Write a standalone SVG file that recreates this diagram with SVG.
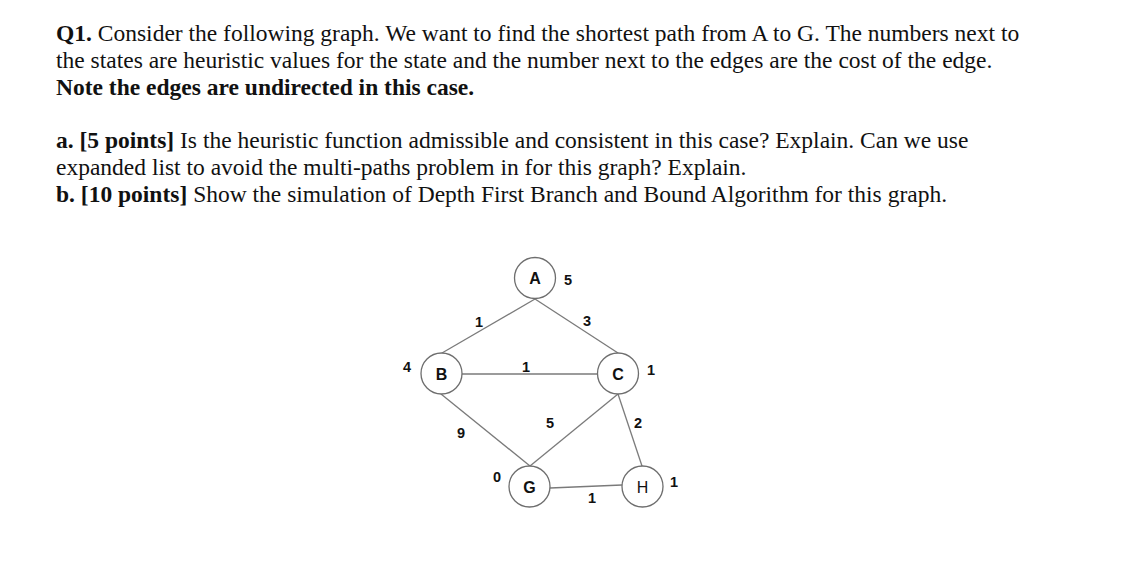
<svg xmlns="http://www.w3.org/2000/svg" width="1125" height="574" viewBox="0 0 1125 574">
<style>
.t{font-family:"Liberation Serif","Times New Roman",serif;font-size:23.5px;fill:#111}
.b{font-weight:bold}
.n{fill:#fff;stroke:#6e6e6e;stroke-width:1.3}
.nl{font-family:"Liberation Sans",Arial,sans-serif;font-size:16px;font-weight:bold;fill:#111;text-anchor:middle;dominant-baseline:central}
.nr{font-weight:normal}
.lb{font-family:"Liberation Sans",Arial,sans-serif;font-size:14.5px;font-weight:bold;fill:#111;text-anchor:middle;dominant-baseline:central}
.e{stroke:#7a7a7a;stroke-width:1.3;fill:none}
</style>
<rect width="1125" height="574" fill="#fff"/>
<g id="text">
<text class="t" x="56" y="40.5"><tspan class="b">Q1.</tspan> Consider the following graph. We want to find the shortest path from A to G. The numbers next to</text>
<text class="t" x="56" y="67.5">the states are heuristic values for the state and the number next to the edges are the cost of the edge.</text>
<text class="t b" x="56" y="95">Note the edges are undirected in this case.</text>
<text class="t" x="56" y="148"><tspan class="b">a. [5 points]</tspan> Is the heuristic function admissible and consistent in this case? Explain. Can we use</text>
<text class="t" x="56" y="175">expanded list to avoid the multi-paths problem in for this graph? Explain.</text>
<text class="t" x="56" y="202"><tspan class="b">b. [10 points]</tspan> Show the simulation of Depth First Branch and Bound Algorithm for this graph.</text>
</g>
<g id="connectors">
<line class="e" x1="535" y1="299" x2="442" y2="353"/>
<line class="e" x1="535" y1="299" x2="618" y2="353"/>
<line class="e" x1="462" y1="374" x2="597" y2="374"/>
<line class="e" x1="441" y1="394" x2="530" y2="466"/>
<line class="e" x1="618" y1="394" x2="530" y2="466"/>
<line class="e" x1="618" y1="394" x2="642" y2="466"/>
<line class="e" x1="550" y1="488" x2="622" y2="485"/>
<text class="lb" x="479" y="322">1</text>
<text class="lb" x="587" y="321">3</text>
<text class="lb" x="526" y="367">1</text>
<text class="lb" x="550" y="423">5</text>
<text class="lb" x="461" y="433">9</text>
<text class="lb" x="638" y="423">2</text>
<text class="lb" x="592" y="498">1</text>
</g>
<g id="node-A">
<circle class="n" cx="535" cy="278" r="20.5"/>
<text class="nl" x="535" y="278">A</text>
<text class="lb" x="568" y="280">5</text>
</g>
<g id="node-B">
<circle class="n" cx="441.5" cy="373.5" r="20.5"/>
<text class="nl" x="441.5" y="374">B</text>
<text class="lb" x="407" y="367">4</text>
</g>
<g id="node-C">
<circle class="n" cx="618" cy="373.5" r="20.5"/>
<text class="nl" x="618" y="374">C</text>
<text class="lb" x="651" y="370">1</text>
</g>
<g id="node-G">
<circle class="n" cx="529.5" cy="486.5" r="20.5"/>
<text class="nl" x="529.5" y="487">G</text>
<text class="lb" x="497" y="477">0</text>
</g>
<g id="node-H">
<circle class="n" cx="642.5" cy="486.5" r="20.5"/>
<text class="nl nr" x="642.5" y="487">H</text>
<text class="lb" x="674" y="482">1</text>
</g>
</svg>
